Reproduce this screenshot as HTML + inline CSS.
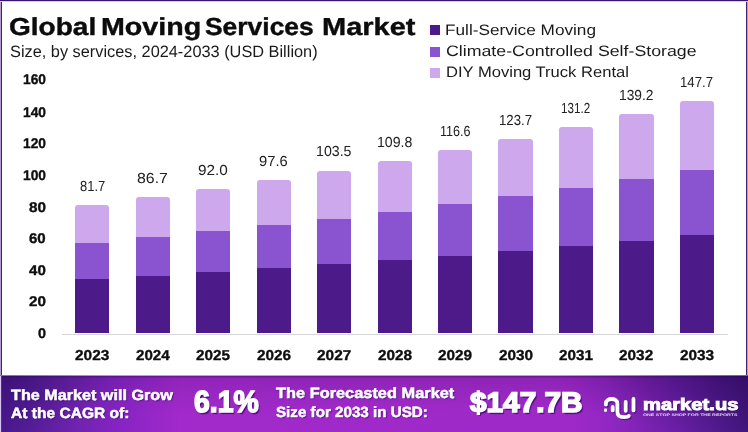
<!DOCTYPE html>
<html lang="en"><head><meta charset="utf-8"><title>Global Moving Services Market</title>
<style>
html,body{margin:0;padding:0;background:#fff;}
body{width:748px;height:432px;overflow:hidden;font-family:"Liberation Sans",Arial,sans-serif;text-rendering:geometricPrecision;}
#card{position:relative;width:748px;height:432px;background:#fff;overflow:hidden;}
#frame{position:absolute;left:0;top:0;width:748px;height:376px;}
#frame i{position:absolute;display:block;}
.t{position:absolute;white-space:nowrap;line-height:1;transform-origin:0 0;display:block;}
.bar{position:absolute;}
.seg{position:absolute;left:0;width:100%;}
#axis{position:absolute;left:62px;top:333.8px;width:666px;height:1px;background:#d6d6d6;}
#footer{position:absolute;left:0;top:375px;width:748px;height:57px;background:radial-gradient(ellipse 200px 60px at 100% 0%,rgba(30,0,70,.3),rgba(30,0,70,0)),radial-gradient(ellipse 120px 60px at 0% 0%,rgba(30,0,70,.2),rgba(30,0,70,0)),linear-gradient(180deg,rgba(255,255,255,.5) 0,rgba(255,255,255,.5) 1px,rgba(40,0,80,.42) 1px,rgba(40,0,80,.42) 2px,rgba(40,0,80,.14) 3px,rgba(40,0,80,.06) 35%,rgba(40,0,80,0) 70%),linear-gradient(90deg,#48188c 0%,#541d97 4%,#6e23af 10%,#8624c3 16%,#a229cb 24%,#a02ac9 40%,#9f29c8 76%,#9327c4 81%,#7e22b4 86%,#6c1fa8 90%,#5a1c97 94%,#41167d 100%);}
.sq{position:absolute;left:430.4px;width:10px;height:10px;}
.ft{text-shadow:1px 1.2px 1.2px rgba(50,5,100,.7);}
.fb{text-shadow:1.6px 1.8px 1px rgba(60,8,115,.9);}
</style></head><body>
<div id="card">

<div id="frame"><i style="left:0;top:0;width:1px;height:376px;background:#b59acb"></i><i style="left:1px;top:0;width:1px;height:376px;background:#40246c"></i><i style="left:747px;top:0;width:1px;height:376px;background:#b59acb"></i><i style="left:746px;top:0;width:1px;height:376px;background:#40246c"></i><i style="left:0;top:1px;width:748px;height:1px;background:#dccbee"></i><i style="left:0;top:0;width:748px;height:1px;background:#3b1273"></i></div>

<h1 style="margin:0;font-size:0">
<span class="t " style="left:8.56px;top:16.15px;font-size:24.56px;font-weight:700;color:#0c0c0c;transform:scaleX(1.1419);-webkit-text-stroke:0.40px #0c0c0c;">Global</span>
 
<span class="t " style="left:100.51px;top:16.15px;font-size:24.56px;font-weight:700;color:#0c0c0c;transform:scaleX(1.1667);-webkit-text-stroke:0.40px #0c0c0c;">Moving</span>
 
<span class="t " style="left:204.66px;top:16.15px;font-size:24.56px;font-weight:700;color:#0c0c0c;transform:scaleX(1.0763);-webkit-text-stroke:0.40px #0c0c0c;">Services</span>
 
<span class="t " style="left:321.73px;top:16.15px;font-size:24.56px;font-weight:700;color:#0c0c0c;transform:scaleX(1.1805);-webkit-text-stroke:0.40px #0c0c0c;">Market</span>
 
</h1>
<span class="t " style="left:9.54px;top:44.46px;font-size:16.42px;font-weight:400;color:#1a1a1a;transform:scaleX(0.9951);">Size, by services, 2024-2033 (USD Billion)</span>
<div class="sq" style="top:25.1px;background:#4c1b89"></div>
<span class="t " style="left:444.50px;top:22.52px;font-size:15.10px;font-weight:400;color:#1a1a1a;transform:scaleX(1.1394);">Full-Service Moving</span>
<div class="sq" style="top:46.8px;background:#8a54d1"></div>
<span class="t " style="left:445.68px;top:43.72px;font-size:15.10px;font-weight:400;color:#1a1a1a;transform:scaleX(1.1759);">Climate-Controlled Self-Storage</span>
<div class="sq" style="top:67.6px;background:#cda8ec"></div>
<span class="t " style="left:445.65px;top:64.82px;font-size:15.10px;font-weight:400;color:#1a1a1a;transform:scaleX(1.0973);">DIY Moving Truck Rental</span>
<span class="t " style="left:22.65px;top:72.10px;font-size:14.03px;font-weight:700;color:#0e0e0e;transform:scaleX(0.9838);-webkit-text-stroke:0.35px #0e0e0e;">160</span>
<span class="t " style="left:22.65px;top:105.40px;font-size:14.03px;font-weight:700;color:#0e0e0e;transform:scaleX(0.9838);-webkit-text-stroke:0.35px #0e0e0e;">140</span>
<span class="t " style="left:22.65px;top:135.80px;font-size:14.03px;font-weight:700;color:#0e0e0e;transform:scaleX(0.9838);-webkit-text-stroke:0.35px #0e0e0e;">120</span>
<span class="t " style="left:22.65px;top:167.60px;font-size:14.03px;font-weight:700;color:#0e0e0e;transform:scaleX(0.9838);-webkit-text-stroke:0.35px #0e0e0e;">100</span>
<span class="t " style="left:28.69px;top:200.20px;font-size:14.03px;font-weight:700;color:#0e0e0e;transform:scaleX(1.0894);-webkit-text-stroke:0.35px #0e0e0e;">80</span>
<span class="t " style="left:28.58px;top:231.20px;font-size:14.03px;font-weight:700;color:#0e0e0e;transform:scaleX(1.0723);-webkit-text-stroke:0.35px #0e0e0e;">60</span>
<span class="t " style="left:28.68px;top:263.00px;font-size:14.03px;font-weight:700;color:#0e0e0e;transform:scaleX(1.0749);-webkit-text-stroke:0.35px #0e0e0e;">40</span>
<span class="t " style="left:28.57px;top:294.10px;font-size:14.03px;font-weight:700;color:#0e0e0e;transform:scaleX(1.0834);-webkit-text-stroke:0.35px #0e0e0e;">20</span>
<span class="t " style="left:37.55px;top:325.80px;font-size:14.03px;font-weight:700;color:#0e0e0e;transform:scaleX(1.0244);-webkit-text-stroke:0.35px #0e0e0e;">0</span>
<div id="axis"></div>
<div class="bar" style="left:75.20px;top:204.77px;width:34.3px;height:128.43px;"><div class="seg" style="top:0;height:38.45px;background:#cda8ec;border-radius:3px 3px 0 0"></div><div class="seg" style="top:37.95px;height:36.72px;background:#8a54d1"></div><div class="seg" style="top:74.17px;height:54.26px;background:#4c1b89"></div></div>
<span class="t " style="left:79.65px;top:180.14px;font-size:14.53px;font-weight:400;color:#222;transform:scaleX(0.8908);">81.7</span>
<span class="t " style="left:74.70px;top:348.87px;font-size:14.32px;font-weight:700;color:#0e0e0e;transform:scaleX(1.0758);-webkit-text-stroke:0.35px #0e0e0e;">2023</span>
<div class="bar" style="left:135.66px;top:196.91px;width:34.3px;height:136.29px;"><div class="seg" style="top:0;height:40.77px;background:#cda8ec;border-radius:3px 3px 0 0"></div><div class="seg" style="top:40.27px;height:38.93px;background:#8a54d1"></div><div class="seg" style="top:78.71px;height:57.58px;background:#4c1b89"></div></div>
<span class="t " style="left:136.57px;top:172.28px;font-size:14.53px;font-weight:400;color:#222;transform:scaleX(1.0944);">86.7</span>
<span class="t " style="left:135.61px;top:348.87px;font-size:14.32px;font-weight:700;color:#0e0e0e;transform:scaleX(1.0562);-webkit-text-stroke:0.35px #0e0e0e;">2024</span>
<div class="bar" style="left:196.12px;top:188.58px;width:34.3px;height:144.62px;"><div class="seg" style="top:0;height:43.24px;background:#cda8ec;border-radius:3px 3px 0 0"></div><div class="seg" style="top:42.74px;height:41.28px;background:#8a54d1"></div><div class="seg" style="top:83.52px;height:61.10px;background:#4c1b89"></div></div>
<span class="t " style="left:197.55px;top:163.95px;font-size:14.53px;font-weight:400;color:#222;transform:scaleX(1.0570);">92.0</span>
<span class="t " style="left:195.62px;top:348.87px;font-size:14.32px;font-weight:700;color:#0e0e0e;transform:scaleX(1.0670);-webkit-text-stroke:0.35px #0e0e0e;">2025</span>
<div class="bar" style="left:256.58px;top:179.77px;width:34.3px;height:153.43px;"><div class="seg" style="top:0;height:45.84px;background:#cda8ec;border-radius:3px 3px 0 0"></div><div class="seg" style="top:45.34px;height:43.77px;background:#8a54d1"></div><div class="seg" style="top:88.60px;height:64.82px;background:#4c1b89"></div></div>
<span class="t " style="left:258.67px;top:155.14px;font-size:14.53px;font-weight:400;color:#222;transform:scaleX(1.0159);">97.6</span>
<span class="t " style="left:256.69px;top:348.87px;font-size:14.32px;font-weight:700;color:#0e0e0e;transform:scaleX(1.0713);-webkit-text-stroke:0.35px #0e0e0e;">2026</span>
<div class="bar" style="left:317.04px;top:170.50px;width:34.3px;height:162.70px;"><div class="seg" style="top:0;height:48.58px;background:#cda8ec;border-radius:3px 3px 0 0"></div><div class="seg" style="top:48.08px;height:46.38px;background:#8a54d1"></div><div class="seg" style="top:93.96px;height:68.74px;background:#4c1b89"></div></div>
<span class="t " style="left:315.54px;top:144.87px;font-size:14.53px;font-weight:400;color:#222;transform:scaleX(0.9767);">103.5</span>
<span class="t " style="left:316.70px;top:348.87px;font-size:14.32px;font-weight:700;color:#0e0e0e;transform:scaleX(1.0769);-webkit-text-stroke:0.35px #0e0e0e;">2027</span>
<div class="bar" style="left:377.50px;top:160.59px;width:34.3px;height:172.61px;"><div class="seg" style="top:0;height:51.50px;background:#cda8ec;border-radius:3px 3px 0 0"></div><div class="seg" style="top:51.00px;height:49.17px;background:#8a54d1"></div><div class="seg" style="top:99.68px;height:72.93px;background:#4c1b89"></div></div>
<span class="t " style="left:376.70px;top:135.97px;font-size:14.53px;font-weight:400;color:#222;transform:scaleX(0.9747);">109.8</span>
<span class="t " style="left:377.54px;top:348.87px;font-size:14.32px;font-weight:700;color:#0e0e0e;transform:scaleX(1.0702);-webkit-text-stroke:0.35px #0e0e0e;">2028</span>
<div class="bar" style="left:437.96px;top:149.90px;width:34.3px;height:183.30px;"><div class="seg" style="top:0;height:54.66px;background:#cda8ec;border-radius:3px 3px 0 0"></div><div class="seg" style="top:54.16px;height:52.19px;background:#8a54d1"></div><div class="seg" style="top:105.85px;height:77.44px;background:#4c1b89"></div></div>
<span class="t " style="left:439.55px;top:125.28px;font-size:14.53px;font-weight:400;color:#222;transform:scaleX(0.8682);">116.6</span>
<span class="t " style="left:437.55px;top:348.87px;font-size:14.32px;font-weight:700;color:#0e0e0e;transform:scaleX(1.0726);-webkit-text-stroke:0.35px #0e0e0e;">2029</span>
<div class="bar" style="left:498.42px;top:138.74px;width:34.3px;height:194.46px;"><div class="seg" style="top:0;height:57.96px;background:#cda8ec;border-radius:3px 3px 0 0"></div><div class="seg" style="top:57.46px;height:55.34px;background:#8a54d1"></div><div class="seg" style="top:112.30px;height:82.16px;background:#4c1b89"></div></div>
<span class="t " style="left:498.70px;top:114.12px;font-size:14.53px;font-weight:400;color:#222;transform:scaleX(0.9100);">123.7</span>
<span class="t " style="left:498.55px;top:348.87px;font-size:14.32px;font-weight:700;color:#0e0e0e;transform:scaleX(1.0725);-webkit-text-stroke:0.35px #0e0e0e;">2030</span>
<div class="bar" style="left:558.88px;top:126.95px;width:34.3px;height:206.25px;"><div class="seg" style="top:0;height:61.45px;background:#cda8ec;border-radius:3px 3px 0 0"></div><div class="seg" style="top:60.95px;height:58.66px;background:#8a54d1"></div><div class="seg" style="top:119.11px;height:87.14px;background:#4c1b89"></div></div>
<span class="t " style="left:560.53px;top:102.33px;font-size:14.53px;font-weight:400;color:#222;transform:scaleX(0.8028);">131.2</span>
<span class="t " style="left:558.51px;top:348.87px;font-size:14.32px;font-weight:700;color:#0e0e0e;transform:scaleX(1.0648);-webkit-text-stroke:0.35px #0e0e0e;">2031</span>
<div class="bar" style="left:619.34px;top:114.38px;width:34.3px;height:218.82px;"><div class="seg" style="top:0;height:65.16px;background:#cda8ec;border-radius:3px 3px 0 0"></div><div class="seg" style="top:64.66px;height:62.21px;background:#8a54d1"></div><div class="seg" style="top:126.37px;height:92.45px;background:#4c1b89"></div></div>
<span class="t " style="left:618.62px;top:88.75px;font-size:14.53px;font-weight:400;color:#222;transform:scaleX(0.9495);">139.2</span>
<span class="t " style="left:618.90px;top:348.87px;font-size:14.32px;font-weight:700;color:#0e0e0e;transform:scaleX(1.0733);-webkit-text-stroke:0.35px #0e0e0e;">2032</span>
<div class="bar" style="left:679.80px;top:101.02px;width:34.3px;height:232.18px;"><div class="seg" style="top:0;height:69.11px;background:#cda8ec;border-radius:3px 3px 0 0"></div><div class="seg" style="top:68.61px;height:65.98px;background:#8a54d1"></div><div class="seg" style="top:134.09px;height:98.10px;background:#4c1b89"></div></div>
<span class="t " style="left:679.60px;top:76.39px;font-size:14.53px;font-weight:400;color:#222;transform:scaleX(0.9095);">147.7</span>
<span class="t " style="left:679.61px;top:348.87px;font-size:14.32px;font-weight:700;color:#0e0e0e;transform:scaleX(1.0724);-webkit-text-stroke:0.35px #0e0e0e;">2033</span>
<div id="footer"></div><div style="position:absolute;left:0;top:376px;width:1px;height:56px;background:#d8c2f2"></div><div style="position:absolute;left:1px;top:376px;width:1px;height:56px;background:#5a2a9c"></div>
<span class="t ft" style="left:10.56px;top:388.99px;font-size:14.83px;font-weight:700;color:#fff;transform:scaleX(1.0906);-webkit-text-stroke:0.50px #fff;">The Market will Grow</span>
<span class="t ft" style="left:10.55px;top:407.39px;font-size:14.83px;font-weight:700;color:#fff;transform:scaleX(1.0499);-webkit-text-stroke:0.50px #fff;">At the CAGR of:</span>
<span class="t fb" style="left:193.63px;top:386.68px;font-size:30.52px;font-weight:700;color:#fff;transform:scaleX(0.9317);-webkit-text-stroke:1.60px #fff;">6.1%</span>
<span class="t ft" style="left:275.56px;top:387.29px;font-size:14.83px;font-weight:700;color:#fff;transform:scaleX(1.1038);-webkit-text-stroke:0.50px #fff;">The Forecasted Market</span>
<span class="t ft" style="left:275.54px;top:405.69px;font-size:14.83px;font-weight:700;color:#fff;transform:scaleX(1.0232);-webkit-text-stroke:0.50px #fff;">Size for 2033 in USD:</span>
<span class="t fb" style="left:469.59px;top:388.04px;font-size:28.20px;font-weight:700;color:#fff;transform:scaleX(1.0561);-webkit-text-stroke:1.60px #fff;">$147.7B</span>
<svg style="position:absolute;left:600px;top:388px" width="50" height="36" viewBox="600 388 50 36" fill="none" stroke="#fff" stroke-width="3.8" stroke-linecap="round" stroke-linejoin="round">
<g stroke="#4a0f86" opacity=".75" transform="translate(1.2,1.3)"><path d="M605.9 404.6 V403.5 C605.9 397.5 617.4 397.5 617.4 403.5 V411.3 C617.4 416.3 620 417.1 623.4 417.1 C626.4 417.1 628.2 417 628.8 415.9"/><path d="M612.7 406.9 V410.4"/><path d="M625.7 402 V410.8"/><path d="M633.5 399 V410.4"/></g>
<path d="M605.9 404.6 V403.5 C605.9 397.5 617.4 397.5 617.4 403.5 V411.3 C617.4 416.3 620 417.1 623.4 417.1 C626.4 417.1 628.2 417 628.8 415.9"/>
<path d="M612.7 406.9 V410.4"/>
<path d="M625.7 402 V410.8"/>
<path d="M633.5 399 V410.4"/>
<rect x="604" y="408.5" width="3" height="3.2" rx="0.8" fill="#fff" stroke="none"/>
</svg>

<span class="t ft" style="left:642.73px;top:396.68px;font-size:16.59px;font-weight:700;color:#fff;transform:scaleX(1.2196);-webkit-text-stroke:0.90px #fff;">market.us</span>
<span class="t " style="left:642.64px;top:413.82px;font-size:3.60px;font-weight:700;color:#e2cdf7;transform:scaleX(1.4600);">ONE STOP SHOP FOR THE REPORTS</span>
</div></body></html>
